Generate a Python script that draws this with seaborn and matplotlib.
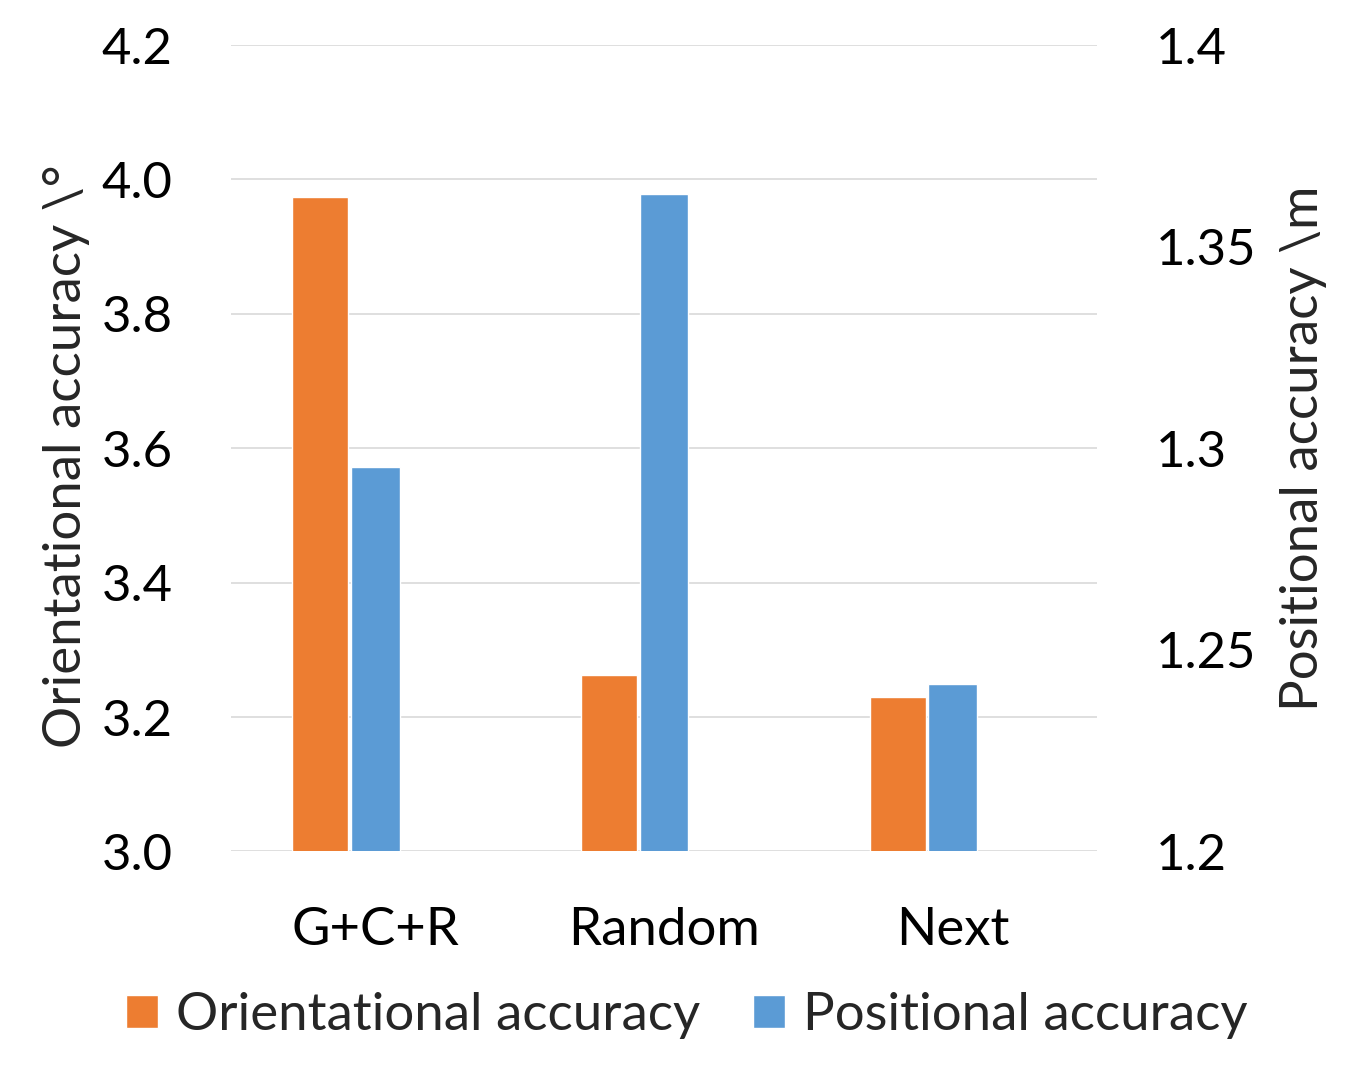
"""
Orientational vs positional accuracy, two-axis bar chart
"""

import numpy as np
import matplotlib
matplotlib.use("Agg")
import matplotlib.pyplot as plt
import matplotlib.ticker as mticker
from matplotlib.patches import Patch
import seaborn as sns

# Data
categories = ["G+C+R", "Random", "Next"]
orient_acc = [3.974, 3.263, 3.230]      # degrees, left axis
pos_acc = [1.2953, 1.3630, 1.2415]      # metres, right axis

left_ticks = [3.0, 3.2, 3.4, 3.6, 3.8, 4.0, 4.2]
right_ticks = [1.2, 1.25, 1.3, 1.35, 1.4]

ORANGE = "#ED7D31"
BLUE = "#5B9BD5"
GRID = "#D9D9D9"

sns.set_style("white")
plt.rcParams['font.family'] = ['Lato', 'DejaVu Sans']
FS_TICK = 36.5
FS = 38

fig = plt.figure(figsize=(13.58, 10.69), dpi=100)
ax = fig.add_axes([0.1701, 0.2035, 0.6377, 0.7544])
ax2 = ax.twinx()

# Orange bars (left axis), shifted left of the category centre
sns.barplot(x=categories, y=orient_acc, color=ORANGE, saturation=1,
            width=0.194, ax=ax, zorder=2)
for p in ax.patches:
    p.set_x(p.get_x() - 0.19)

# Blue bars (right axis)
sns.barplot(x=categories, y=pos_acc, color=BLUE, saturation=1,
            width=0.168, ax=ax2, zorder=2)

ax.set_xlim(-0.5, 2.5)
ax.set_ylim(3.0, 4.2)
ax2.set_ylim(1.2, 1.4)
ax.set_yticks(left_ticks)
ax2.set_yticks(right_ticks)
ax.yaxis.set_major_formatter(mticker.FormatStrFormatter('%.1f'))
ax2.yaxis.set_major_formatter(mticker.FuncFormatter(lambda v, _: f"{v:g}"))

ax.set_axisbelow(True)
ax.yaxis.grid(True, color=GRID, linewidth=1.2)
ax.xaxis.grid(False)
ax2.grid(False)

for a in (ax, ax2):
    for s in a.spines.values():
        s.set_visible(False)
    a.tick_params(axis='both', length=0, labelsize=FS_TICK, colors='black')

ax.tick_params(axis='y', pad=42)
ax2.tick_params(axis='y', pad=42)
ax.tick_params(axis='x', pad=40, labelsize=FS)
ax2.set_xlabel("")
ax.set_xlabel("")

ax.set_ylabel("Orientational accuracy \\°", fontsize=FS)
ax.yaxis.set_label_coords(-0.163, 0.49)
ax2.set_ylabel("Positional accuracy \\m", fontsize=FS, rotation=90)
ax2.yaxis.set_label_coords(1.211, 0.5)

handles = [Patch(facecolor=ORANGE, label="Orientational accuracy"),
           Patch(facecolor=BLUE, label="Positional accuracy")]
fig.legend(handles=handles, loc='center', bbox_to_anchor=(0.506, 0.05),
           ncol=2, frameon=False, fontsize=FS, handlelength=0.6,
           handleheight=0.6, handletextpad=0.35, columnspacing=1.0)

plt.savefig('out.png', dpi=100)
plt.close()
